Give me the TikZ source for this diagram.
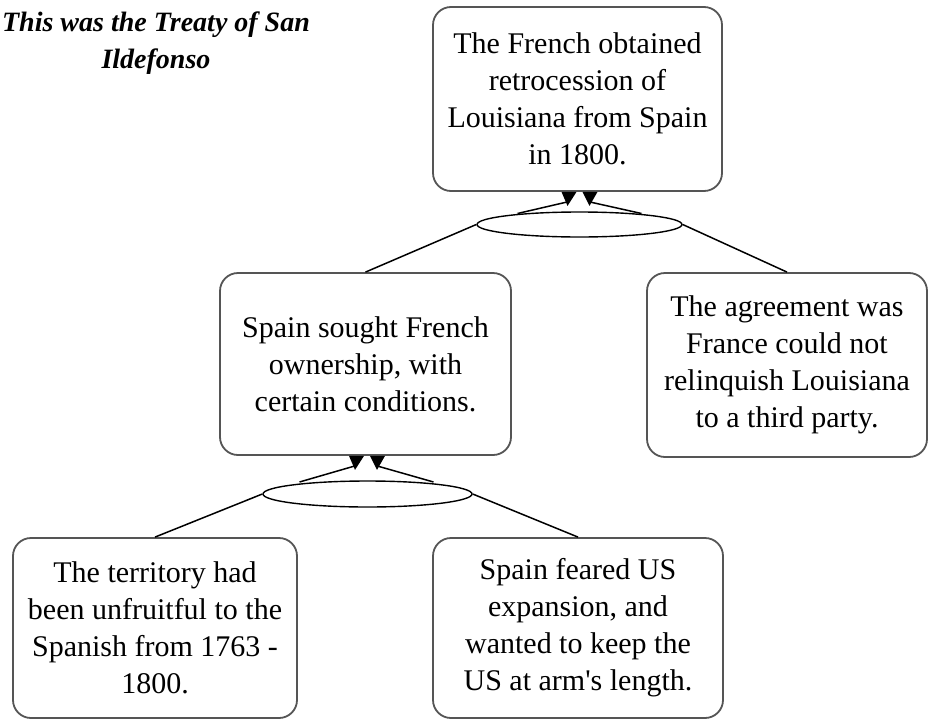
\documentclass[tikz,border=0pt]{standalone}
\usepackage{fontspec}
\setmainfont{Liberation Serif}
\usetikzlibrary{shapes.geometric,calc}
\definecolor{boxgray}{RGB}{85,85,85}
\begin{document}
\begin{tikzpicture}[x=1pt,y=-1pt]
\tikzset{
  claim/.style={draw=boxgray, line width=1.8pt, rounded corners=18pt, fill=white,
    align=center, inner sep=0pt, font=\fontsize{30}{37}\selectfont},
  joint/.style={ellipse, draw, line width=1.4pt, inner sep=0pt, fill=white},
  link/.style={line width=1.5pt},
  tip/.style={fill=black}
}
\useasboundingbox (0,0) rectangle (928,720);
\fill[white] (0,0) rectangle (928,720);
% title
\node[align=center, font=\fontsize{28}{37}\selectfont\bfseries\itshape] (title) at (156,43)
  {This was the Treaty of San\\Ildefonso};
% boxes
\node[claim, minimum width=289pt, minimum height=184pt] (top) at (577.5,99)
  {The French obtained\\retrocession of\\Louisiana from Spain\\in 1800.};
\node[claim, minimum width=291pt, minimum height=182pt] (mid) at (365.5,364)
  {Spain sought French\\ownership, with\\certain conditions.};
\node[claim, minimum width=280pt, minimum height=184pt] (right) at (787,365)
  {The agreement was\\France could not\\relinquish Louisiana\\to a third party.};
\node[claim, minimum width=284pt, minimum height=180pt] (bl) at (155,628)
  {The territory had\\been unfruitful to the\\Spanish from 1763 -\\1800.};
\node[claim, minimum width=290pt, minimum height=180pt] (bm) at (578,628)
  {Spain feared US\\expansion, and\\wanted to keep the\\US at arm\textquotesingle s length.};
% joints
\node[joint, minimum width=205pt, minimum height=25pt] (e1) at (579.5,224.5) {};
\node[joint, minimum width=209pt, minimum height=26pt] (e2) at (367.5,494) {};
% tip coordinates
\coordinate (a1) at ($(top.south)+(-10,0)$);
\coordinate (a2) at ($(top.south)+(12,0)$);
\coordinate (a3) at ($(mid.south)+(-10.5,0)$);
\coordinate (a4) at ($(mid.south)+(11.5,0)$);
% upper argument
\draw[link] (mid.north) -- (e1.west);
\draw[link] (right.north) -- (e1.east);
\draw[link] ($(e1.center)+(-62,-11)$) -- ($(a1)+(0,10)$);
\draw[link] ($(e1.center)+(62,-11)$) -- ($(a2)+(0,10)$);
\fill[tip] ($(a1)+(-6,0)$) -- ($(a1)+(9,0)$) -- ($(a1)+(0,14)$) -- cycle;
\fill[tip] ($(a2)+(-7,0)$) -- ($(a2)+(8,0)$) -- ($(a2)+(0,14)$) -- cycle;
% lower argument
\draw[link] (bl.north) -- (e2.west);
\draw[link] (bm.north) -- (e2.east);
\draw[link] ($(e2.center)+(-68,-12)$) -- ($(a3)+(0,10)$);
\draw[link] ($(e2.center)+(66,-12)$) -- ($(a4)+(0,10)$);
\fill[tip] ($(a3)+(-6,0)$) -- ($(a3)+(9,0)$) -- ($(a3)+(0,14)$) -- cycle;
\fill[tip] ($(a4)+(-7,0)$) -- ($(a4)+(8,0)$) -- ($(a4)+(0,14)$) -- cycle;
\end{tikzpicture}
\end{document}
